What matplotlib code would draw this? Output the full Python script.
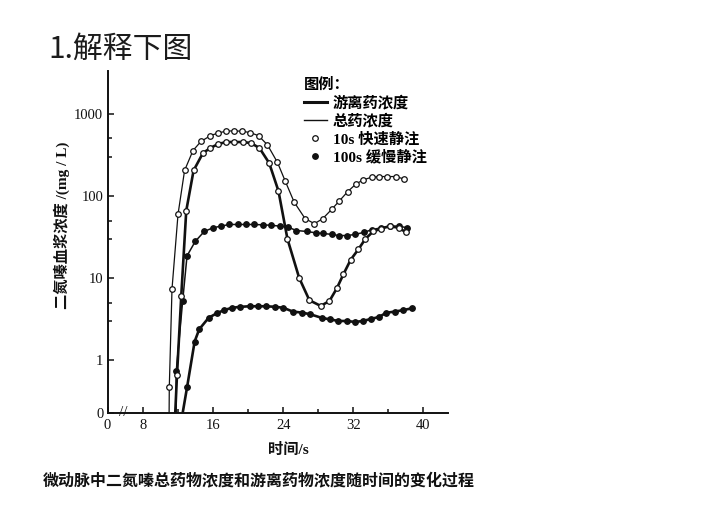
import numpy as np
import matplotlib
matplotlib.use("Agg")
import matplotlib.pyplot as plt
from matplotlib.lines import Line2D
from matplotlib.font_manager import FontProperties

# -------------------------------------------------------------------
# Data (time in s, concentration in mg/L,
# 0 = no drug arrived yet)
# -------------------------------------------------------------------

rapid_total_t = [10.95, 10.97, 11.28, 11.97, 12.72, 13.68, 14.59, 15.66, 16.54, 17.41,
                 18.32, 19.28, 20.23, 21.18, 22.2, 23.35, 24.23, 25.26, 26.51, 27.58,
                 28.53, 29.57, 30.43, 31.39, 32.34, 33.18, 34.13, 35.0, 35.92, 36.91, 37.86]
rapid_total_c = [0, 0.47, 7.4, 60, 204, 356, 459, 539, 582, 610,
                 620, 610, 590, 539, 418, 255, 152, 84, 53, 46,
                 53, 69, 87, 113, 140, 157, 169, 172, 172, 172, 160]

rapid_free_t = [11.65, 11.85, 12.34, 12.91, 13.75, 14.82, 15.66, 16.54, 17.49, 18.4,
                19.35, 20.31, 21.29, 22.4, 23.46, 24.49, 25.83, 27.0, 28.3, 29.3,
                30.13, 30.9, 31.73, 32.6, 33.4, 34.3, 35.2, 36.2, 37.2, 38.1]
rapid_free_c = [0, 0.66, 6.1, 66, 204, 332, 382, 427, 452, 452,
                452, 440, 382, 251, 115, 30, 10.1, 5.4, 4.6, 5.3,
                7.5, 11.2, 16.8, 22.4, 30, 37, 40, 43, 41, 36]

slow_total_t = [11.75, 11.77, 12.5, 13.0, 13.94, 14.97, 15.97, 16.9, 17.85, 18.8,
                19.8, 20.7, 21.7, 22.6, 23.6, 24.5, 25.5, 26.7, 27.8, 28.6,
                29.6, 30.4, 31.3, 32.2, 33.2, 34.2, 35.2, 36.2, 37.2, 38.2]
slow_total_c = [0, 0.75, 5.3, 18.7, 28, 37, 41, 43, 45, 45,
                45, 45, 44.5, 44, 43, 42, 38, 37, 35.5, 35,
                34, 33, 33, 34, 36, 39, 41, 43, 43, 41]

slow_free_t = [12.5, 13.0, 13.87, 14.4, 15.47, 16.42, 17.26, 18.14, 19.09, 20.15,
               21.1, 22.06, 23.09, 24.03, 25.1, 26.14, 27.09, 28.43, 29.37, 30.32,
               31.28, 32.23, 33.1, 34.06, 35.0, 35.77, 36.8, 37.75, 38.7]
slow_free_c = [0, 0.47, 1.7, 2.4, 3.3, 3.76, 4.1, 4.37, 4.49, 4.56,
               4.56, 4.56, 4.49, 4.37, 3.93, 3.82, 3.65, 3.29, 3.16, 3.02,
               3.02, 2.94, 3.02, 3.2, 3.39, 3.8, 3.93, 4.1, 4.3]

x_ticks = [8, 16, 24, 32, 40]
x_minor = [12, 20, 28, 36]
y_ticks = [1, 10, 100, 1000]
y_minor = [3, 5, 30, 50, 300, 500]

legend_labels = ["游离药浓度", "总药浓度", "10s 快速静注", "100s 缓慢静注"]

# -------------------------------------------------------------------
# Style
# -------------------------------------------------------------------

X_ZERO = 3.9      # broken time axis: where "0" sits
Y_ZERO = 0.23     # log axis floor, drawn as "0"
INK = "#111111"
MS = 4.0
SCAN = ["Liberation Serif", "Noto Sans CJK SC"]
CJK = ["Noto Sans CJK SC", "DejaVu Sans"]


def floor_zero(values):
    values = np.asarray(values, dtype=float)
    return np.where(values > 0, values, Y_ZERO)


def draw_curve(ax, t, c, lw, filled):
    ax.plot(t, floor_zero(c), color=INK, lw=lw, marker="o", ms=MS, mew=0.9,
            mec=INK, mfc=INK if filled else "white",
            markevery=slice(1, None), solid_joinstyle="round")


fig = plt.figure(figsize=(7.2, 5.18), dpi=100)
ax = fig.add_axes([107.5 / 720, 1 - 413 / 518, 340.5 / 720, 342 / 518])

draw_curve(ax, slow_total_t, slow_total_c, 1.1, True)
draw_curve(ax, slow_free_t, slow_free_c, 1.9, True)
draw_curve(ax, rapid_total_t, rapid_total_c, 0.9, False)
draw_curve(ax, rapid_free_t, rapid_free_c, 1.9, False)

ax.set_yscale("log")
ax.set_xlim(X_ZERO, 42.86)
ax.set_ylim(Y_ZERO, 3300)

ax.set_xticks([X_ZERO] + x_ticks, labels=["0"] + [str(v) for v in x_ticks])
ax.set_xticks(x_minor, minor=True)
ax.set_yticks([Y_ZERO] + y_ticks, labels=["0"] + [str(v) for v in y_ticks])
ax.set_yticks(y_minor, minor=True, labels=[])

for side in ("top", "right"):
    ax.spines[side].set_visible(False)
for side in ("left", "bottom"):
    ax.spines[side].set_linewidth(1.4)
    ax.spines[side].set_color(INK)

ax.tick_params(which="both", direction="in", color=INK, width=1.1)
ax.tick_params(which="major", length=4)
ax.tick_params(which="minor", length=3)
ax.tick_params(axis="y", which="major", pad=3)
ax.tick_params(axis="x", which="major", pad=4)
for lbl in ax.get_xticklabels() + ax.get_yticklabels():
    lbl.set_fontfamily(SCAN)
    lbl.set_fontsize(10.5)
    lbl.set_color(INK)

# axis break mark
ax.text(5.7, Y_ZERO, "//", fontsize=11, family=SCAN, color=INK,
        ha="center", va="center")

# labels
fig.text(62 / 720, 1 - 225 / 518, "二氮嗪血浆浓度 /(mg / L)", rotation=90,
         ha="center", va="center", fontsize=11, family=SCAN, weight="bold", color=INK)
fig.text(288 / 720, 1 - 450 / 518, "时间/s", ha="center", va="center",
         fontsize=11, family=SCAN, weight="bold", color=INK)

handles = [
    Line2D([], [], color=INK, lw=2.2),
    Line2D([], [], color=INK, lw=1.0),
    Line2D([], [], ls="none", marker="o", ms=MS, mew=0.9, mec=INK, mfc="white"),
    Line2D([], [], ls="none", marker="o", ms=MS, mew=0.9, mec=INK, mfc=INK),
]
legend_font = FontProperties(family=SCAN, size=11, weight="bold")
fig.legend(handles, legend_labels, loc="upper left",
           bbox_to_anchor=(304 / 720, 1 - 78 / 518), frameon=False,
           borderpad=0, borderaxespad=0, alignment="left",
           title="图例：", title_fontproperties=legend_font, prop=legend_font,
           handlelength=1.5, handletextpad=0.4, labelspacing=0.22)

# slide title and figure caption
fig.text(48 / 720, 1 - 49 / 518, "1.解释下图", ha="left", va="center",
         fontsize=21.5, family=CJK, color="#1c1c1c")
fig.text(43 / 720, 1 - 480 / 518, "微动脉中二氮嗪总药物浓度和游离药物浓度随时间的变化过程",
         ha="left", va="center", fontsize=11.5, family=CJK, weight="bold", color=INK)

fig.savefig("out.png", dpi=100)
